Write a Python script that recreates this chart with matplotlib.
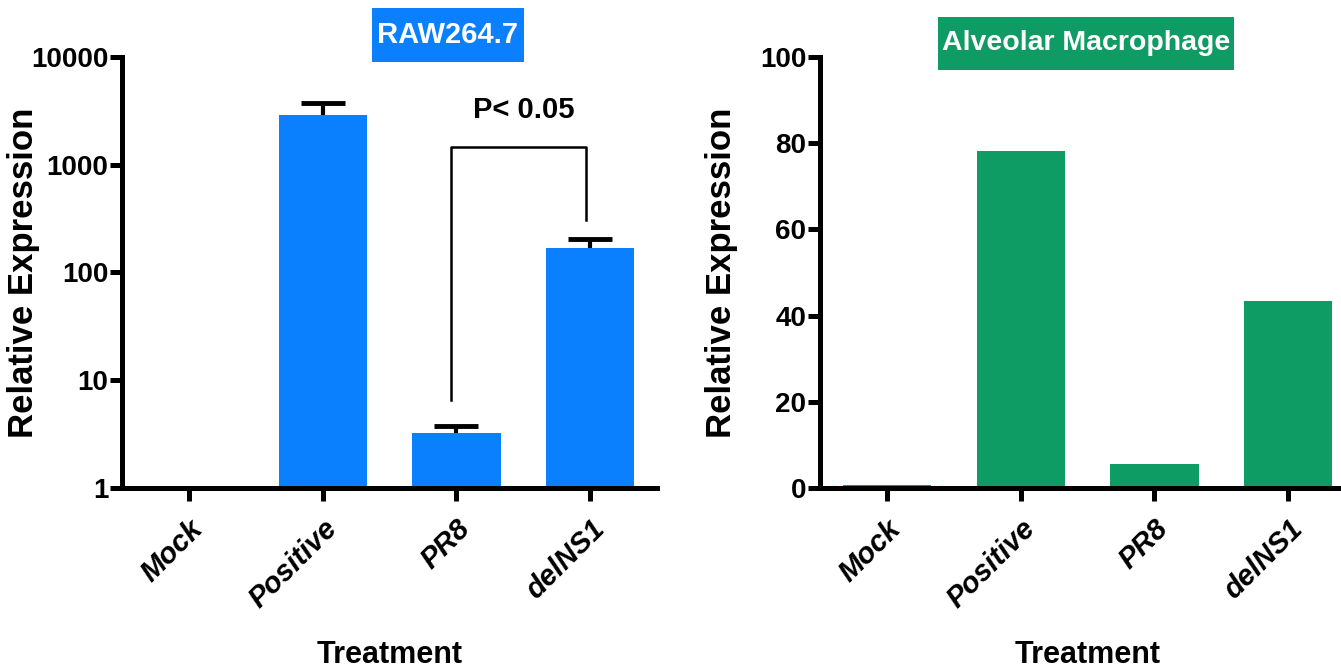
import matplotlib.pyplot as plt
from matplotlib.patches import Rectangle
import numpy as np

# data
groups = ['Mock', 'Positive', 'PR8', 'delNS1']
raw_mean = [1.0, 2890, 3.24, 169]
raw_err = [0, 850, 0.52, 36]
am_mean = [0.7, 78.2, 5.6, 43.4]

blue = '#0a80ff'
green = '#0f9b64'

plt.rcParams['font.family'] = ['Liberation Sans', 'DejaVu Sans']
plt.rcParams['font.weight'] = 'bold'

fig = plt.figure(figsize=(13.41, 6.69), dpi=100)
ax1 = fig.add_axes([0.091, 0.2706, 0.399, 0.6442])
ax2 = fig.add_axes([0.6115, 0.2706, 0.399, 0.6442])

x = np.arange(len(groups))


def style(ax):
    for s in ['top', 'right']:
        ax.spines[s].set_visible(False)
    for s in ['left', 'bottom']:
        ax.spines[s].set_linewidth(3.6)
    ax.tick_params(axis='both', width=3.6, length=9, labelsize=20)
    ax.tick_params(axis='y', pad=1)
    ax.set_xticks(x)
    ax.set_xticklabels(groups, rotation=45, ha='right', rotation_mode='anchor',
                       style='italic', fontsize=21, fontweight='bold')
    ax.tick_params(axis='x', pad=10)
    ax.set_xlim(-0.5, 3.5)
    ax.set_xlabel('Treatment', fontsize=22, fontweight='bold', labelpad=19)
    ax.set_ylabel('Relative Expression', fontsize=25, fontweight='bold')
    ax.yaxis.set_label_coords(-0.153, 0.5)


def title_box(ax, x0, x1, y0, y1, text, color, size):
    ax.add_patch(Rectangle((x0, y0), x1 - x0, y1 - y0, transform=ax.transAxes,
                           facecolor=color, edgecolor='none', clip_on=False))
    ax.text((x0 + x1) / 2, (y0 + y1) / 2, text, transform=ax.transAxes,
            ha='center', va='center', fontsize=size, fontweight='bold', color='white')


# left panel, log scale
ax1.bar(x, np.array(raw_mean) - 1, bottom=1, width=0.66, color=blue, zorder=2)
eb = ax1.errorbar(x[1:], raw_mean[1:], yerr=[[0] * 3, raw_err[1:]], fmt='none',
                  ecolor='black', elinewidth=3, capsize=16, capthick=3.5, zorder=1)
eb[1][0].set_visible(False)
ax1.set_yscale('log')
ax1.set_ylim(1, 10000)
style(ax1)
ax1.set_yticks([1, 10, 100, 1000, 10000])
ax1.set_yticklabels(['1', '10', '100', '1000', '10000'], fontweight='bold')
ax1.yaxis.set_minor_locator(plt.NullLocator())

# significance bracket between PR8 and delNS1
ax1.plot([1.96, 1.96, 2.97, 2.97], [6.5, 1450, 1450, 310], color='black', lw=1.8, clip_on=False)
ax1.text(2.5, 3220, 'P< 0.05', ha='center', va='center', fontsize=21, fontweight='bold')

title_box(ax1, 0.467, 0.751, 0.988, 1.114, 'RAW264.7', blue, 21)

# right panel, linear scale
ax2.bar(x, am_mean, width=0.66, color=green, zorder=2)
ax2.set_ylim(0, 100)
style(ax2)
ax2.set_yticks([0, 20, 40, 60, 80, 100])
ax2.set_yticklabels(['0', '20', '40', '60', '80', '100'], fontweight='bold')
title_box(ax2, 0.2206, 0.774, 0.970, 1.093, 'Alveolar Macrophage', green, 20.5)

fig.savefig('out.png', dpi=100)
